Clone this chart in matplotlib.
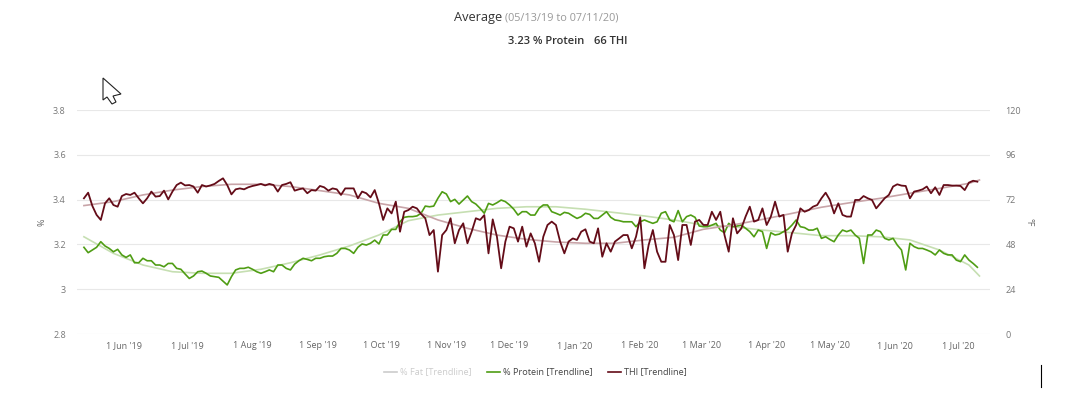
import matplotlib
matplotlib.use("Agg")
import matplotlib.pyplot as plt
import pandas as pd
from matplotlib.lines import Line2D
from matplotlib.patches import Polygon

plt.rcParams["font.family"] = ["Open Sans", "DejaVu Sans"]

# --- Data ---
# daily series sampled every 2 days from 05/13/19
thi = [72.7, 75.7, 68.6, 63.8, 61.1, 70.0, 72.7, 69.1, 68.2, 73.9, 75.0, 74.5, 75.7, 72.7, 70.0,
       72.7, 76.3, 73.6, 73.9, 76.8, 72.1, 76.3, 79.8, 81.1, 79.6, 79.8, 79.0, 75.7, 79.8, 79.0,
       79.6, 80.4, 82.0, 83.4, 79.8, 74.8, 77.5, 78.0, 77.5, 78.6, 79.3, 79.8, 80.4, 79.6, 80.4,
       79.8, 76.3, 79.8, 80.4, 81.3, 76.8, 77.5, 78.0, 75.4, 77.1, 76.8, 79.3, 78.6, 76.8, 78.0,
       77.5, 74.5, 78.0, 78.0, 78.0, 72.7, 76.3, 75.4, 73.2, 77.1, 70.0, 61.1, 67.3, 64.6, 70.9,
       54.8, 65.5, 66.4, 68.2, 67.3, 64.3, 62.0, 53.0, 55.7, 33.4, 53.0, 55.7, 62.0, 48.6, 55.7,
       59.3, 48.6, 54.8, 62.0, 61.1, 63.7, 43.2, 61.4, 52.1, 35.2, 49.5, 57.5, 56.6, 49.5, 57.5,
       46.8, 53.9, 48.6, 38.7, 52.1, 58.4, 60.2, 58.4, 49.5, 43.2, 49.5, 51.2, 50.4, 54.8, 56.1,
       49.5, 48.6, 56.6, 41.4, 48.6, 44.1, 49.5, 51.2, 53.0, 53.0, 45.9, 52.1, 62.5, 35.2, 47.7,
       55.7, 44.1, 38.7, 38.7, 58.4, 53.0, 39.6, 58.4, 58.4, 47.7, 60.2,
       61.1, 58.4, 58.4, 65.5, 61.1, 65.5, 53.0, 44.1, 62.0, 53.9, 56.6, 62.9, 68.2, 60.2, 61.1,
       67.3, 58.4, 62.9, 70.9, 62.9, 63.8, 44.1, 53.9, 58.4, 67.3, 65.5, 66.4, 68.2, 69.1, 72.7,
       75.7, 71.8, 64.6, 70.0, 63.8, 62.9, 62.9, 71.8, 71.8, 73.9, 72.7, 71.8, 67.3, 70.0, 72.7,
       74.5, 79.0, 80.2, 79.5, 79.3, 72.7, 76.3, 76.8, 77.5, 79.0, 75.4, 78.6, 74.5, 79.8, 79.8,
       79.5, 79.5, 79.3, 77.1, 81.1, 82.1, 81.6]

protein = [3.187, 3.163, 3.175, 3.187, 3.212, 3.193, 3.182, 3.167, 3.178, 3.153, 3.142, 3.153, 3.118, 3.118, 3.138,
           3.127, 3.127, 3.108, 3.108, 3.100, 3.115, 3.115, 3.093, 3.089, 3.068, 3.048, 3.059, 3.078, 3.081, 3.071,
           3.059, 3.056, 3.053, 3.036, 3.019, 3.056, 3.086, 3.093, 3.093, 3.098, 3.089, 3.078, 3.071, 3.078, 3.086,
           3.078, 3.108, 3.108, 3.093, 3.086, 3.112, 3.127, 3.138, 3.133, 3.127, 3.138, 3.138, 3.145, 3.148, 3.148,
           3.160, 3.182, 3.182, 3.175, 3.160, 3.187, 3.202, 3.197, 3.205, 3.219, 3.202, 3.242, 3.242, 3.267, 3.267,
           3.301, 3.321, 3.324, 3.324, 3.327, 3.339, 3.371, 3.368, 3.371, 3.406, 3.435, 3.425, 3.391, 3.401, 3.380,
           3.398, 3.416, 3.391, 3.380, 3.361, 3.339, 3.383, 3.376, 3.386, 3.398, 3.391, 3.376, 3.357, 3.331, 3.346,
           3.346, 3.331, 3.331, 3.361, 3.376, 3.376, 3.346, 3.339, 3.331, 3.343, 3.339, 3.327, 3.316, 3.324, 3.339,
           3.334, 3.316, 3.316, 3.331, 3.346, 3.321, 3.309, 3.306, 3.301, 3.301, 3.301, 3.279, 3.301, 3.309, 3.301,
           3.294, 3.301, 3.339, 3.346, 3.309, 3.301, 3.351, 3.301, 3.324, 3.331, 3.321,
           3.282, 3.279, 3.279, 3.286, 3.294, 3.264, 3.252, 3.294, 3.279, 3.282, 3.286, 3.272, 3.257, 3.234, 3.264,
           3.257, 3.182, 3.252, 3.242, 3.246, 3.257, 3.267, 3.286, 3.309, 3.279, 3.275, 3.264, 3.264, 3.272, 3.227,
           3.234, 3.222, 3.212, 3.242, 3.264, 3.257, 3.264, 3.242, 3.227, 3.115, 3.242, 3.242, 3.264, 3.257, 3.227,
           3.220, 3.227, 3.197, 3.175, 3.086, 3.205, 3.190, 3.182, 3.182, 3.175, 3.167, 3.153, 3.175, 3.160, 3.153,
           3.153, 3.130, 3.123, 3.153, 3.130, 3.115, 3.098]

# trendlines sampled every 14 days, last value on 07/11/20
fat_trend = [3.234, 3.160, 3.108, 3.078, 3.071, 3.071, 3.089, 3.118, 3.153, 3.193, 3.242, 3.306, 3.331, 3.346, 3.361,
             3.368, 3.368, 3.357, 3.342, 3.327, 3.309, 3.286, 3.279, 3.264, 3.252, 3.239, 3.239, 3.234, 3.220, 3.175,
             3.108, 3.059]
thi_trend = [68.8, 70.9, 74.5, 77.1, 79.0, 80.2, 80.2, 79.0, 76.8, 74.5, 70.0, 67.3, 61.1, 56.6, 53.0,
             50.7, 49.3, 48.6, 48.6, 50.4, 51.8, 56.1, 58.4, 61.4, 64.6, 67.9, 70.4, 72.7, 75.4, 78.0,
             80.7, 82.5]

month_ticks = ["2019-06-01", "2019-07-01", "2019-08-01", "2019-09-01", "2019-10-01", "2019-11-01", "2019-12-01",
               "2020-01-01", "2020-02-01", "2020-03-01", "2020-04-01", "2020-05-01", "2020-06-01", "2020-07-01"]
month_labels = ["1 Jun '19", "1 Jul '19", "1 Aug '19", "1 Sep '19", "1 Oct '19", "1 Nov '19", "1 Dec '19",
                "1 Jan '20", "1 Feb '20", "1 Mar '20", "1 Apr '20", "1 May '20", "1 Jun '20", "1 Jul '20"]
left_ticks = [2.8, 3.0, 3.2, 3.4, 3.6, 3.8]
left_labels = ["2.8", "3", "3.2", "3.4", "3.6", "3.8"]
right_ticks = [0, 24, 48, 72, 96, 120]

daily_dates = pd.date_range("2019-05-13", periods=len(thi), freq="2D")
trend_dates = list(pd.date_range("2019-05-13", periods=len(fat_trend) - 1, freq="14D")) + [pd.Timestamp("2020-07-11")]

W, H = 1087, 395
fig = plt.figure(figsize=(W / 100, H / 100), dpi=100)
ax = fig.add_axes([77 / W, 1 - 334 / H, (990 - 77) / W, (334 - 110) / H])
ax2 = ax.twinx()

# trends sit under the daily lines
ax.set_zorder(2)
ax2.set_zorder(3)
ax.patch.set_visible(False)
ax2.patch.set_visible(False)

ax.plot(trend_dates, fat_trend, color="#c6dfb2", lw=1.2, zorder=2)
ax2.plot(trend_dates, thi_trend, color="#c8a4a8", lw=1.2, zorder=1)
ax.plot(daily_dates, protein, color="#4f9d14", lw=1.2, zorder=3, solid_joinstyle="round")
ax2.plot(daily_dates, thi, color="#640c18", lw=1.3, zorder=4, solid_joinstyle="round")

ax.set_xlim(pd.Timestamp("2019-05-09 17:00"), pd.Timestamp("2020-07-16"))
ax.set_ylim(2.8, 3.8)
ax2.set_ylim(0, 120)

ax.set_xticks(pd.to_datetime(month_ticks))
ax.set_xticklabels(month_labels)
ax.set_yticks(left_ticks)
ax.set_yticklabels(left_labels)
ax2.set_yticks(right_ticks)

ax.grid(axis="y", color="#e8e8e8", lw=0.8)
ax.set_axisbelow(True)
for a in (ax, ax2):
    for s in a.spines.values():
        s.set_visible(False)
ax.tick_params(axis="x", length=0, labelsize=6.5, labelcolor="#666666", pad=5)
ax.tick_params(axis="y", length=0, labelsize=6.5, labelcolor="#777777", pad=8)
ax2.tick_params(axis="y", length=0, labelsize=6.5, labelcolor="#777777", pad=11)

fig.text(42 / W, 1 - 222 / H, "%", rotation=90, fontsize=6.5, color="#666666", ha="center", va="center")
fig.text(1029 / W, 1 - 222 / H, "°F", rotation=-90, fontsize=6.5, color="#666666", ha="center", va="center")

# header
fig.text(454 / W, 1 - 17 / H, "Average", fontsize=9.2, color="#333333", ha="left", va="center")
fig.text(505 / W, 1 - 18 / H, "(05/13/19 to 07/11/20)", fontsize=7.8, color="#999999", ha="left", va="center")
fig.text(508 / W, 1 - 42 / H, "3.23 % Protein", fontsize=8, color="#333333", ha="left", va="center", fontweight="semibold")
fig.text(594 / W, 1 - 42 / H, "66 THI", fontsize=8, color="#333333", ha="left", va="center", fontweight="semibold")

# legend, % Fat is switched off so it stays grey
legend_items = [("% Fat [Trendline]", "#cccccc", "#cccccc", 384), ("% Protein [Trendline]", "#4f9d14", "#444444", 487),
                ("THI [Trendline]", "#640c18", "#444444", 608)]
for label, line_color, text_color, x0 in legend_items:
    fig.add_artist(Line2D([x0 / W, (x0 + 13) / W], [1 - 372 / H, 1 - 372 / H], color=line_color, lw=1.2))
    fig.text((x0 + 16) / W, 1 - 372 / H, label, fontsize=6.6, color=text_color, ha="left", va="center")

# mouse pointer and text cursor caught in the screenshot
pointer = [(103, 78), (103, 100), (107, 97), (112, 104), (116, 102), (113, 96), (121, 94)]
fig.add_artist(Polygon([(x / W, 1 - y / H) for x, y in pointer], closed=True, facecolor="white",
                       edgecolor="#222222", lw=0.8, transform=fig.transFigure))
fig.add_artist(Line2D([1041 / W, 1041 / W], [1 - 365 / H, 1 - 387 / H], color="black", lw=0.8))

fig.savefig("out.png", dpi=100)
